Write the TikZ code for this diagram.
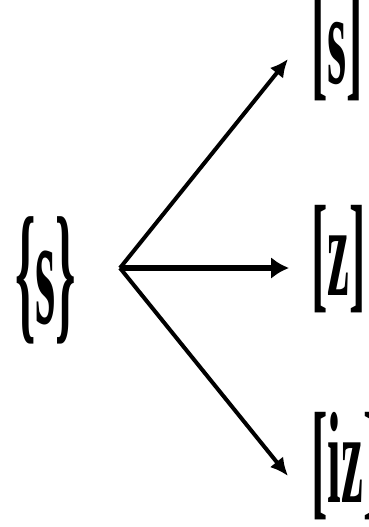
\documentclass[tikz,border=0pt]{standalone}
\usepackage{fontspec}
\usepackage{graphicx}
\setmainfont{Liberation Serif}
\usetikzlibrary{arrows.meta}
\tikzset{
  lbl/.style={inner sep=0pt, anchor=base west, font=\fontsize{130}{130}\selectfont\bfseries},
  srclbl/.style={inner sep=0pt, anchor=base west, font=\fontsize{154}{154}\selectfont\bfseries},
  arr/.style={line width=4pt, -{Latex[length=18pt,width=17pt]}},
  harr/.style={line width=6pt, -{Latex[length=18pt,width=22pt]}},
}
\begin{document}
\begin{tikzpicture}[x=1pt,y=-1pt]
\useasboundingbox[fill=white] (0,0) rectangle (369,527);
\node[srclbl] (src) at (15,323) {\scalebox{0.336}[1]{\{s\}}};
\node[lbl] (ls) at (311,83) {\scalebox{0.378}[1]{[s]}};
\node[lbl] (lz) at (311,295) {\scalebox{0.378}[1]{[z]}};
\node[lbl] (liz) at (311,502) {\scalebox{0.378}[1]{[iz]}};
\coordinate (o) at (120,268);
\coordinate (ts) at (288,59);
\coordinate (tz) at (289,268);
\coordinate (tiz) at (288,476);
\draw[arr] (o) -- (ts);
\draw[harr] (o) -- (tz);
\draw[arr] (o) -- (tiz);
\end{tikzpicture}
\end{document}
